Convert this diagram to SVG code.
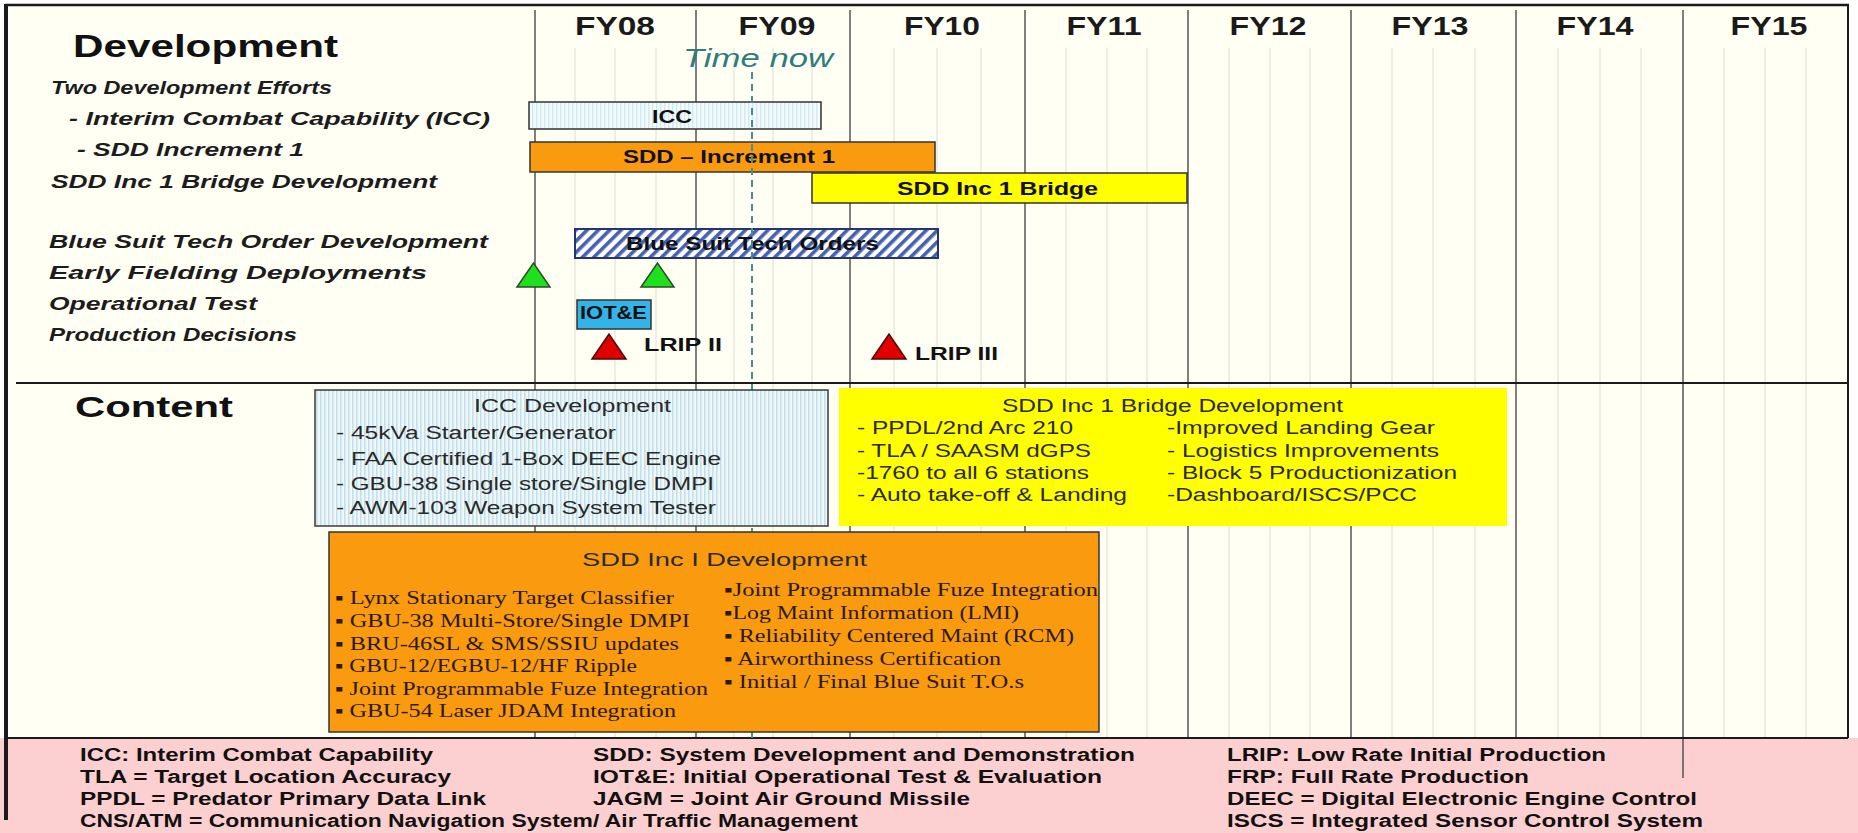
<svg xmlns="http://www.w3.org/2000/svg" width="1858" height="833" viewBox="0 0 1858 833">
<defs>
<pattern id="vstripe" width="4" height="4" patternUnits="userSpaceOnUse"><rect width="4" height="4" fill="#EEF8FB"/><rect width="1.6" height="4" fill="#C4E1EA"/></pattern>
<pattern id="vstripe2" width="4" height="4" patternUnits="userSpaceOnUse"><rect width="4" height="4" fill="#F2FAFC"/><rect width="1.4" height="4" fill="#D2EAF1"/></pattern>
<pattern id="hatch" width="8" height="8" patternUnits="userSpaceOnUse" patternTransform="rotate(45)"><rect width="8" height="8" fill="#FFFFFF"/><rect width="3.6" height="8" fill="#4561B0"/></pattern>
<style>
.lbl{font-family:"Liberation Sans",Arial,sans-serif;font-style:italic;font-weight:bold;font-size:18.5px;fill:#1C1C1C}
.head{font-family:"Liberation Sans",Arial,sans-serif;font-weight:bold;fill:#111}
.fy{font-family:"Liberation Sans",Arial,sans-serif;font-weight:bold;font-size:25px;fill:#1A1A1A}
.bar{font-family:"Liberation Sans",Arial,sans-serif;font-weight:bold;font-size:18px;fill:#111}
.box{font-family:"Liberation Sans",Arial,sans-serif;font-size:18px;fill:#2A2A2A}
.ser{font-family:"Liberation Serif","Times New Roman",serif;font-size:18px;fill:#2A1A0A}
.leg{font-family:"Liberation Sans",Arial,sans-serif;font-weight:bold;font-size:17.5px;fill:#111}
.yr{stroke:#555;stroke-width:1.5}
.qt{stroke:#DCDCD2;stroke-width:1}
.frame{stroke:#1A1A1A;fill:none}
</style>
</defs>
<rect width="1858" height="833" fill="#FFFFFF"/>
<rect x="6" y="5" width="1842" height="733" fill="#FFFFF3"/>
<rect x="0" y="738" width="1858" height="95" fill="#FCD0D0"/>

<g id="grid">
<line class="qt" x1="575" y1="48" x2="575" y2="738"/><line class="qt" x1="615" y1="48" x2="615" y2="738"/><line class="qt" x1="656" y1="48" x2="656" y2="738"/>
<line class="qt" x1="734" y1="48" x2="734" y2="738"/><line class="qt" x1="773" y1="48" x2="773" y2="738"/><line class="qt" x1="812" y1="48" x2="812" y2="738"/>
<line class="qt" x1="894" y1="48" x2="894" y2="738"/><line class="qt" x1="937" y1="48" x2="937" y2="738"/><line class="qt" x1="981" y1="48" x2="981" y2="738"/>
<line class="qt" x1="1066" y1="48" x2="1066" y2="738"/><line class="qt" x1="1107" y1="48" x2="1107" y2="738"/><line class="qt" x1="1147" y1="48" x2="1147" y2="738"/>
<line class="qt" x1="1229" y1="48" x2="1229" y2="738"/><line class="qt" x1="1270" y1="48" x2="1270" y2="738"/><line class="qt" x1="1310" y1="48" x2="1310" y2="738"/>
<line class="qt" x1="1392" y1="48" x2="1392" y2="738"/><line class="qt" x1="1433" y1="48" x2="1433" y2="738"/><line class="qt" x1="1475" y1="48" x2="1475" y2="738"/>
<line class="qt" x1="1558" y1="48" x2="1558" y2="738"/><line class="qt" x1="1600" y1="48" x2="1600" y2="738"/><line class="qt" x1="1641" y1="48" x2="1641" y2="738"/>
<line class="qt" x1="1724" y1="48" x2="1724" y2="738"/><line class="qt" x1="1765" y1="48" x2="1765" y2="738"/><line class="qt" x1="1806" y1="48" x2="1806" y2="738"/>
<line class="yr" x1="535" y1="10" x2="535" y2="738"/>
<line class="yr" x1="696" y1="10" x2="696" y2="738"/>
<line class="yr" x1="850" y1="10" x2="850" y2="738"/>
<line class="yr" x1="1025" y1="10" x2="1025" y2="738"/>
<line class="yr" x1="1188" y1="10" x2="1188" y2="738"/>
<line class="yr" x1="1351" y1="10" x2="1351" y2="738"/>
<line class="yr" x1="1516" y1="10" x2="1516" y2="738"/>
<line class="yr" x1="1683" y1="10" x2="1683" y2="778"/>
</g>

<g id="frame">
<line class="frame" x1="5" y1="5" x2="1849" y2="5" stroke-width="2.5"/>
<line class="frame" x1="6" y1="4" x2="6" y2="820" stroke-width="4"/>
<line class="frame" x1="1848" y1="5" x2="1848" y2="738" stroke-width="2"/>
<line class="frame" x1="6" y1="738" x2="1848" y2="738" stroke-width="2"/>
<line class="frame" x1="16" y1="383" x2="1848" y2="383" stroke-width="2"/>
</g>

<g id="headers">
<text class="fy" x="615" y="35" text-anchor="middle" textLength="80" lengthAdjust="spacingAndGlyphs">FY08</text>
<text class="fy" x="777" y="35" text-anchor="middle" textLength="77" lengthAdjust="spacingAndGlyphs">FY09</text>
<text class="fy" x="942" y="35" text-anchor="middle" textLength="76" lengthAdjust="spacingAndGlyphs">FY10</text>
<text class="fy" x="1104" y="35" text-anchor="middle" textLength="75" lengthAdjust="spacingAndGlyphs">FY11</text>
<text class="fy" x="1268" y="35" text-anchor="middle" textLength="77" lengthAdjust="spacingAndGlyphs">FY12</text>
<text class="fy" x="1430" y="35" text-anchor="middle" textLength="77" lengthAdjust="spacingAndGlyphs">FY13</text>
<text class="fy" x="1595" y="35" text-anchor="middle" textLength="77" lengthAdjust="spacingAndGlyphs">FY14</text>
<text class="fy" x="1769" y="35" text-anchor="middle" textLength="77" lengthAdjust="spacingAndGlyphs">FY15</text>
</g>

<g id="time-now">
<text x="683" y="67" font-family="Liberation Sans, Arial, sans-serif" font-style="italic" font-size="25" fill="#2F7C7C" textLength="150" lengthAdjust="spacingAndGlyphs">Time now</text>
</g>

<g id="labels">
<text class="head" x="73" y="57" font-size="32" textLength="265" lengthAdjust="spacingAndGlyphs">Development</text>
<text class="lbl" x="51" y="94" textLength="281" lengthAdjust="spacingAndGlyphs">Two Development Efforts</text>
<text class="lbl" x="69" y="125" textLength="421" lengthAdjust="spacingAndGlyphs">- Interim Combat Capability (ICC)</text>
<text class="lbl" x="77" y="156" textLength="227" lengthAdjust="spacingAndGlyphs">- SDD Increment 1</text>
<text class="lbl" x="51" y="188" textLength="386" lengthAdjust="spacingAndGlyphs">SDD Inc 1 Bridge Development</text>
<text class="lbl" x="49" y="248" textLength="439" lengthAdjust="spacingAndGlyphs">Blue Suit Tech Order Development</text>
<text class="lbl" x="49" y="279" textLength="378" lengthAdjust="spacingAndGlyphs">Early Fielding Deployments</text>
<text class="lbl" x="49" y="310" textLength="208" lengthAdjust="spacingAndGlyphs">Operational Test</text>
<text class="lbl" x="49" y="341" textLength="248" lengthAdjust="spacingAndGlyphs">Production Decisions</text>
<text class="head" x="75" y="417" font-size="30" textLength="158" lengthAdjust="spacingAndGlyphs">Content</text>
</g>

<g id="bar-icc">
<rect x="529" y="102" width="292" height="27" fill="url(#vstripe2)" stroke="#333" stroke-width="1.5"/>
<text class="bar" x="652" y="123" textLength="40" lengthAdjust="spacingAndGlyphs">ICC</text>
</g>
<g id="bar-sdd">
<rect x="530" y="142" width="405" height="30" fill="#FA9A0E" stroke="#333" stroke-width="1.5"/>
<text class="bar" x="623" y="163" textLength="212" lengthAdjust="spacingAndGlyphs">SDD – Increment 1</text>
</g>
<g id="bar-bridge">
<rect x="812" y="173" width="375" height="30" fill="#FFFF00" stroke="#333" stroke-width="1.5"/>
<text class="bar" x="897" y="195" textLength="201" lengthAdjust="spacingAndGlyphs">SDD  Inc 1 Bridge</text>
</g>
<g id="bar-bluesuit">
<rect x="575" y="229" width="363" height="29" fill="url(#hatch)" stroke="#25356E" stroke-width="2"/>
<text class="bar" x="626" y="250" textLength="253" lengthAdjust="spacingAndGlyphs">Blue Suit Tech Orders</text>
</g>
<g id="early-fielding">
<polygon points="517,287 533.5,263 550,287" fill="#1EE01E" stroke="#2C4A2C" stroke-width="1.5"/>
<polygon points="641,287 657.5,263 674,287" fill="#1EE01E" stroke="#2C4A2C" stroke-width="1.5"/>
</g>
<g id="iote">
<rect x="577" y="300" width="74" height="29" fill="#33B4E8" stroke="#333" stroke-width="1.5"/>
<text class="bar" x="580" y="319" font-size="15" textLength="67" lengthAdjust="spacingAndGlyphs">IOT&amp;E</text>
</g>
<g id="lrip2">
<polygon points="592,359 609,334 626,359" fill="#E00000" stroke="#4A0A0A" stroke-width="1.5"/>
<text class="bar" x="644" y="351" font-size="19" textLength="78" lengthAdjust="spacingAndGlyphs">LRIP  II</text>
</g>
<g id="lrip3">
<polygon points="872,359 889,334 906,359" fill="#E00000" stroke="#4A0A0A" stroke-width="1.5"/>
<text class="bar" x="915" y="360" font-size="19" textLength="83" lengthAdjust="spacingAndGlyphs">LRIP  III</text>
</g>

<g id="connectors">
<line x1="752" y1="72" x2="752" y2="738" stroke="#4A8C8C" stroke-width="2" stroke-dasharray="7,5"/>
</g>

<g id="icc-content">
<rect x="315" y="390" width="513" height="136" fill="url(#vstripe)" stroke="#3A3A3A" stroke-width="1.5"/>
<text class="box" x="474" y="412" textLength="197" lengthAdjust="spacingAndGlyphs">ICC Development</text>
<text class="box" x="336" y="439" textLength="280" lengthAdjust="spacingAndGlyphs">- 45kVa Starter/Generator</text>
<text class="box" x="336" y="465" textLength="385" lengthAdjust="spacingAndGlyphs">- FAA Certified 1-Box DEEC Engine</text>
<text class="box" x="336" y="490" textLength="378" lengthAdjust="spacingAndGlyphs">- GBU-38 Single store/Single DMPI</text>
<text class="box" x="336" y="514" textLength="380" lengthAdjust="spacingAndGlyphs">- AWM-103 Weapon System Tester</text>
</g>

<g id="bridge-content">
<rect x="839" y="388" width="668" height="138" fill="#FFFF00"/>
<text class="box" x="1002" y="412" textLength="341" lengthAdjust="spacingAndGlyphs">SDD Inc 1  Bridge Development</text>
<text class="box" x="857" y="434" textLength="216" lengthAdjust="spacingAndGlyphs">- PPDL/2nd Arc  210</text>
<text class="box" x="857" y="457" textLength="234" lengthAdjust="spacingAndGlyphs">- TLA / SAASM  dGPS</text>
<text class="box" x="857" y="479" textLength="232" lengthAdjust="spacingAndGlyphs">-1760 to all 6 stations</text>
<text class="box" x="857" y="501" textLength="270" lengthAdjust="spacingAndGlyphs">- Auto take-off &amp; Landing</text>
<text class="box" x="1167" y="434" textLength="268" lengthAdjust="spacingAndGlyphs">-Improved Landing Gear</text>
<text class="box" x="1167" y="457" textLength="272" lengthAdjust="spacingAndGlyphs">- Logistics Improvements</text>
<text class="box" x="1167" y="479" textLength="290" lengthAdjust="spacingAndGlyphs">- Block 5 Productionization</text>
<text class="box" x="1167" y="501" textLength="250" lengthAdjust="spacingAndGlyphs">-Dashboard/ISCS/PCC</text>
</g>

<g id="sdd-content">
<rect x="329" y="532" width="770" height="200" fill="#FA9A0E" stroke="#333" stroke-width="1.5"/>
<text class="box" x="582" y="566" font-size="21" textLength="285" lengthAdjust="spacingAndGlyphs">SDD  Inc I Development</text>
<text class="ser" x="335" y="604" textLength="339" lengthAdjust="spacingAndGlyphs">▪ Lynx Stationary Target Classifier</text>
<text class="ser" x="335" y="627" textLength="355" lengthAdjust="spacingAndGlyphs">▪ GBU-38 Multi-Store/Single  DMPI</text>
<text class="ser" x="335" y="650" textLength="344" lengthAdjust="spacingAndGlyphs">▪ BRU-46SL &amp; SMS/SSIU updates</text>
<text class="ser" x="335" y="672" textLength="302" lengthAdjust="spacingAndGlyphs">▪ GBU-12/EGBU-12/HF Ripple</text>
<text class="ser" x="335" y="695" textLength="373" lengthAdjust="spacingAndGlyphs">▪ Joint Programmable  Fuze Integration</text>
<text class="ser" x="335" y="717" textLength="341" lengthAdjust="spacingAndGlyphs">▪ GBU-54 Laser JDAM Integration</text>
<text class="ser" x="724" y="596" textLength="374" lengthAdjust="spacingAndGlyphs">▪Joint  Programmable  Fuze Integration</text>
<text class="ser" x="724" y="619" textLength="295" lengthAdjust="spacingAndGlyphs">▪Log Maint Information (LMI)</text>
<text class="ser" x="724" y="642" textLength="350" lengthAdjust="spacingAndGlyphs">▪ Reliability  Centered Maint (RCM)</text>
<text class="ser" x="724" y="665" textLength="277" lengthAdjust="spacingAndGlyphs">▪ Airworthiness Certification</text>
<text class="ser" x="724" y="688" textLength="300" lengthAdjust="spacingAndGlyphs">▪ Initial  / Final Blue Suit T.O.s</text>
</g>

<g id="legend">
<text class="leg" x="80" y="761" textLength="353" lengthAdjust="spacingAndGlyphs">ICC: Interim Combat Capability</text>
<text class="leg" x="80" y="783" textLength="371" lengthAdjust="spacingAndGlyphs">TLA = Target Location Accuracy</text>
<text class="leg" x="80" y="805" textLength="406" lengthAdjust="spacingAndGlyphs">PPDL = Predator Primary Data Link</text>
<text class="leg" x="80" y="827" textLength="778" lengthAdjust="spacingAndGlyphs">CNS/ATM = Communication Navigation System/ Air Traffic Management</text>
<text class="leg" x="593" y="761" textLength="542" lengthAdjust="spacingAndGlyphs">SDD: System Development and Demonstration</text>
<text class="leg" x="593" y="783" textLength="509" lengthAdjust="spacingAndGlyphs">IOT&amp;E:  Initial Operational Test &amp; Evaluation</text>
<text class="leg" x="593" y="805" textLength="377" lengthAdjust="spacingAndGlyphs">JAGM = Joint Air Ground Missile</text>
<text class="leg" x="1227" y="761" textLength="379" lengthAdjust="spacingAndGlyphs">LRIP: Low Rate Initial  Production</text>
<text class="leg" x="1227" y="783" textLength="302" lengthAdjust="spacingAndGlyphs">FRP:  Full Rate Production</text>
<text class="leg" x="1227" y="805" textLength="470" lengthAdjust="spacingAndGlyphs">DEEC = Digital Electronic Engine  Control</text>
<text class="leg" x="1227" y="827" textLength="476" lengthAdjust="spacingAndGlyphs">ISCS = Integrated Sensor Control System</text>
</g>
</svg>
